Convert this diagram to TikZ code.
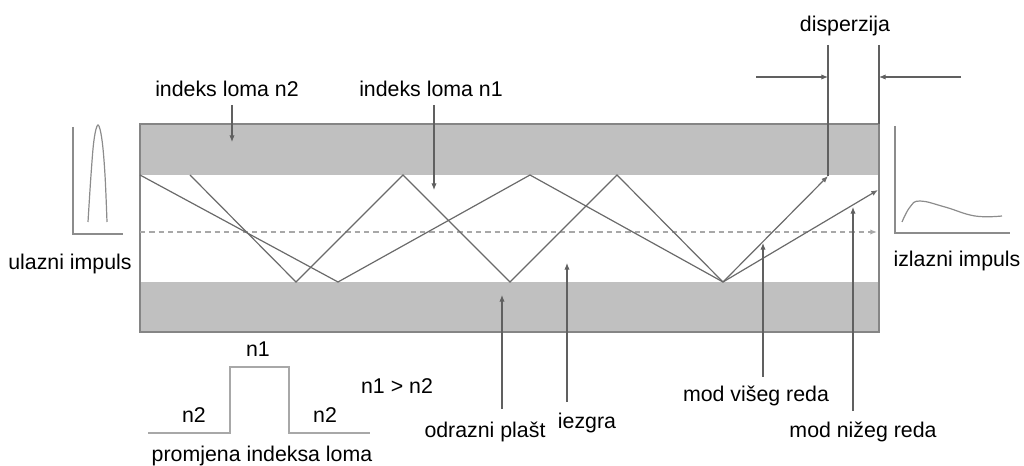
\documentclass[tikz,border=0pt]{standalone}
\usepackage{fontspec}
\setmainfont{Liberation Sans}
\usetikzlibrary{arrows.meta,calc}

\definecolor{clad}{HTML}{C0C0C0}
\definecolor{edge}{HTML}{858585}
\definecolor{raycol}{HTML}{6A6A6A}
\definecolor{leadcol}{HTML}{606060}
\definecolor{axiscol}{HTML}{A8A8A8}
\definecolor{curvecol}{HTML}{8C8C8C}

\begin{document}
\begin{tikzpicture}[x=0.75pt,y=-0.75pt,
  lbl/.style={font=\fontsize{16}{19}\selectfont, inner sep=0pt, anchor=base, text=black},
  tip/.style={-{Latex[length=5pt,width=4pt]}},
  ray/.style={draw=raycol, line width=0.9pt},
  lead/.style={draw=leadcol, line width=0.8pt, tip},
  guide/.style={draw=leadcol, line width=0.8pt},
  plotline/.style={draw=curvecol, line width=0.9pt},
  profile/.style={draw=axiscol, line width=1.2pt}]

\useasboundingbox (0,0) rectangle (1024,466);

% fibre: cladding bands and outline
\fill[clad] (140,124) rectangle (879,175);
\fill[clad] (140,282) rectangle (879,332);
\draw[edge, line width=1pt] (140,124) rectangle (879,332);

% fibre axis
\coordinate (axL) at (140,232);
\coordinate (axR) at (877,232);
\draw[axiscol, line width=1pt, dash pattern=on 4pt off 3pt] (axL) -- (axR);
\draw[axiscol, line width=1pt, tip] ($(axR)+(-4,0)$) -- (axR);

% lower-order mode
\coordinate (l0) at (140,175);
\coordinate (l1) at (338,282);
\coordinate (l2) at (530,175);
\coordinate (l3) at (723,282);
\coordinate (l4) at (878,190);
\draw[ray] (l0) -- (l1) -- (l2) -- (l3);
\draw[ray, tip] (l3) -- (l4);

% higher-order mode
\coordinate (h0) at (190,175);
\coordinate (h1) at (296,282);
\coordinate (h2) at (403,175);
\coordinate (h3) at (510,282);
\coordinate (h4) at (617,175);
\coordinate (h5) at (723,282);
\coordinate (h6) at (828,176);
\draw[ray] (h0) -- (h1) -- (h2) -- (h3) -- (h4) -- (h5);
\draw[ray, tip] (h5) -- (h6);

% dispersion marks
\coordinate (d1t) at (828,45);
\coordinate (d2t) at (879,45);
\coordinate (d2b) at (879,124);
\draw[guide] (d1t) -- (h6);
\draw[guide] (d2t) -- (d2b);
\coordinate (da1) at (756,77);
\coordinate (da1e) at (828,77);
\coordinate (da2) at (961,77);
\coordinate (da2e) at (879,77);
\draw[lead] (da1) -- (da1e);
\draw[lead] (da2) -- (da2e);
\node[lbl] (disp) at (845,32) {disperzija};

% input pulse
\coordinate (inTop) at (73,127);
\coordinate (inO) at (73,234);
\coordinate (inEnd) at (123,234);
\draw[plotline] (inTop) -- (inO) -- (inEnd);
\draw[plotline] plot[smooth, tension=0.6] coordinates
  {(88,222) (91,175) (94,140) (98,125) (102,140) (105,175) (107,222)};
\node[lbl] (inlab) at (70,270) {ulazni impuls};

% output pulse
\coordinate (outTop) at (895,126);
\coordinate (outO) at (895,233);
\coordinate (outEnd) at (1010,233);
\draw[plotline] (outTop) -- (outO) -- (outEnd);
\draw[plotline] plot[smooth, tension=0.7] coordinates
  {(902,222) (910,207) (920,201) (945,207) (975,216) (1002,216)};
\node[lbl] (outlab) at (957,267) {izlazni impuls};

% labels above the fibre
\node[lbl] (n2lab) at (227,97) {indeks loma n2};
\node[lbl] (n1lab) at (431,97) {indeks loma n1};
\coordinate (a2s) at (232,105);
\coordinate (a2e) at (232,142);
\coordinate (a1s) at (434,105);
\coordinate (a1e) at (434,190);
\draw[lead] (a2s) -- (a2e);
\draw[lead] (a1s) -- (a1e);

% labels below the fibre
\node[lbl] (plast) at (485,437) {odrazni plašt};
\node[lbl] (core) at (587,428) {iezgra};
\node[lbl] (hi) at (756,402) {mod višeg reda};
\node[lbl] (lo) at (863,437) {mod nižeg reda};
\coordinate (bp) at (502,409);
\coordinate (bpe) at (502,295);
\coordinate (bc) at (567,402);
\coordinate (bce) at (567,263);
\coordinate (bh) at (763,377);
\coordinate (bhe) at (763,243);
\coordinate (bl) at (853,411);
\coordinate (ble) at (853,207);
\draw[lead] (bp) -- (bpe);
\draw[lead] (bc) -- (bce);
\draw[lead] (bh) -- (bhe);
\draw[lead] (bl) -- (ble);

% refractive index profile
\coordinate (p0) at (148,433);
\coordinate (p1) at (230,433);
\coordinate (p2) at (230,367);
\coordinate (p3) at (289,367);
\coordinate (p4) at (289,433);
\coordinate (p5) at (370,433);
\draw[profile] (p0) -- (p1) -- (p2) -- (p3) -- (p4) -- (p5);
\node[lbl] (pn1) at (258,357) {n1};
\node[lbl] (pn2a) at (194,422) {n2};
\node[lbl] (pn2b) at (325,422) {n2};
\node[lbl] (cmp) at (397,393) {n1 > n2};
\node[lbl] (prof) at (262,461) {promjena indeksa loma};

\end{tikzpicture}
\end{document}
